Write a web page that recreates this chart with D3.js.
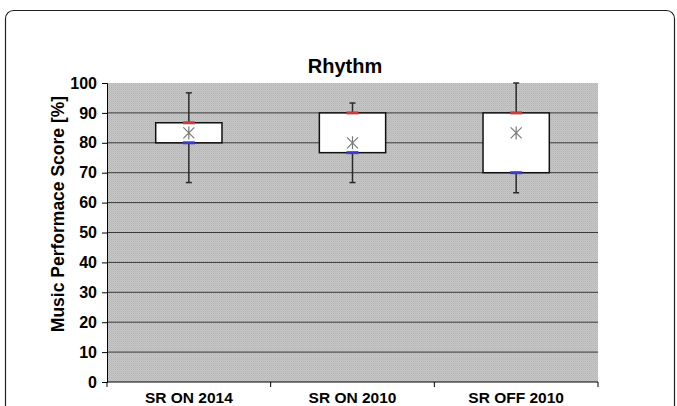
<!DOCTYPE html>
<html>
<head>
<meta charset="utf-8">
<script src="https://cdn.jsdelivr.net/npm/d3@7"></script>
<style>
  html, body { margin: 0; padding: 0; background: #fff; }
  svg { display: block; font-family: "Liberation Sans", Arial, sans-serif; }
</style>
</head>
<body>
<div id="chart"></div>
<script>
const categories = ['SR ON 2014', 'SR ON 2010', 'SR OFF 2010'];
const whiskerMax = [96.7, 93.3, 100];
const upperQ = [86.7, 90, 90];
const lowerQ = [80, 76.7, 70];
const whiskerMin = [66.7, 66.7, 63.3];
const means = [83.3, 80, 83.3];
const yTicks = [0, 10, 20, 30, 40, 50, 60, 70, 80, 90, 100];

const W = 677, H = 406;
const margin = { top: 83, right: 79, bottom: 24, left: 107 };
const width = W - margin.left - margin.right;
const height = H - margin.top - margin.bottom;

const svg = d3.select('#chart').append('svg')
  .attr('width', W)
  .attr('height', H);

// outer frame
svg.append('rect')
  .attr('x', 5.5).attr('y', 10.5)
  .attr('width', 669).attr('height', 420)
  .attr('rx', 8)
  .attr('fill', 'none')
  .attr('stroke', '#222')
  .attr('stroke-width', 1.2);

// dithered gray fill like the old Excel export
const defs = svg.append('defs');
const pat = defs.append('pattern')
  .attr('id', 'dither')
  .attr('width', 2).attr('height', 2)
  .attr('patternUnits', 'userSpaceOnUse');
pat.append('rect').attr('width', 2).attr('height', 2).attr('fill', '#c8c8c8');
pat.append('rect').attr('width', 1).attr('height', 1).attr('fill', '#b4b4b4');
pat.append('rect').attr('x', 1).attr('y', 1).attr('width', 1).attr('height', 1).attr('fill', '#bcbcbc');

const g = svg.append('g')
  .attr('transform', `translate(${margin.left},${margin.top})`);

const x = d3.scaleBand().domain(categories).range([0, width]);
const y = d3.scaleLinear().domain([0, 100]).range([height, 0]);

g.append('rect')
  .attr('width', width).attr('height', height)
  .attr('fill', 'url(#dither)');

// gridlines
g.selectAll('.grid')
  .data(yTicks.filter(d => d > 0 && d < 100))
  .enter().append('line')
  .attr('x1', 0).attr('x2', width)
  .attr('y1', d => y(d)).attr('y2', d => y(d))
  .attr('stroke', '#3a3a3a')
  .attr('stroke-width', 1);

// y axis
const yAxis = g.append('g')
  .call(d3.axisLeft(y).tickValues(yTicks).tickSize(5).tickPadding(5));
yAxis.select('.domain').attr('stroke', '#000');
yAxis.selectAll('text')
  .attr('font-size', 16)
  .attr('font-weight', 'bold')
  .attr('fill', '#000');

// x axis with ticks at band edges
const xAxis = g.append('g').attr('transform', `translate(0,${height})`);
xAxis.append('line')
  .attr('x1', 0).attr('x2', width)
  .attr('stroke', '#000').attr('stroke-width', 1.2);
const edges = categories.map(c => x(c)).concat([width]);
xAxis.selectAll('.xt').data(edges).enter().append('line')
  .attr('x1', d => d).attr('x2', d => d)
  .attr('y1', 0).attr('y2', 5)
  .attr('stroke', '#000');
xAxis.selectAll('.xl').data(categories).enter().append('text')
  .attr('x', d => x(d) + x.bandwidth() / 2)
  .attr('y', 20.5)
  .attr('text-anchor', 'middle')
  .attr('font-size', 15.5)
  .attr('font-weight', 'bold')
  .text(d => d);

// boxes
const boxW = x.bandwidth() * 0.405;
const rows = categories.map((c, i) => ({
  cat: c, hi: whiskerMax[i], q3: upperQ[i], q1: lowerQ[i], lo: whiskerMin[i], mean: means[i]
}));

const box = g.selectAll('.box').data(rows).enter().append('g')
  .attr('transform', d => `translate(${x(d.cat) + x.bandwidth() / 2},0)`);

box.append('line')
  .attr('y1', d => y(d.hi)).attr('y2', d => y(d.lo))
  .attr('stroke', '#2a2a2a').attr('stroke-width', 1.5);
box.append('line')
  .attr('x1', -3).attr('x2', 3)
  .attr('y1', d => y(d.hi)).attr('y2', d => y(d.hi))
  .attr('stroke', '#2a2a2a').attr('stroke-width', 1.5);
box.append('line')
  .attr('x1', -3).attr('x2', 3)
  .attr('y1', d => y(d.lo)).attr('y2', d => y(d.lo))
  .attr('stroke', '#2a2a2a').attr('stroke-width', 1.5);

box.append('rect')
  .attr('x', -boxW / 2)
  .attr('width', boxW)
  .attr('y', d => y(d.q3))
  .attr('height', d => y(d.q1) - y(d.q3))
  .attr('fill', '#fff')
  .attr('stroke', '#111')
  .attr('stroke-width', 1.5);

box.append('line')
  .attr('x1', -6).attr('x2', 6)
  .attr('y1', d => y(d.q3)).attr('y2', d => y(d.q3))
  .attr('stroke', '#c83c3c').attr('stroke-width', 3);
box.append('line')
  .attr('x1', -6).attr('x2', 6)
  .attr('y1', d => y(d.q1)).attr('y2', d => y(d.q1))
  .attr('stroke', '#3c3cc8').attr('stroke-width', 3);

// mean marker (asterisk)
const s = 5.5;
box.append('path')
  .attr('d', d => {
    const cy = y(d.mean);
    return `M${-s},${cy - s}L${s},${cy + s}M${-s},${cy + s}L${s},${cy - s}M0,${cy - s - 1}L0,${cy + s + 1}`;
  })
  .attr('stroke', '#7a7a7a')
  .attr('stroke-width', 1.2)
  .attr('fill', 'none');

// titles
svg.append('text')
  .attr('x', 345)
  .attr('y', 73)
  .attr('text-anchor', 'middle')
  .attr('font-size', 20)
  .attr('font-weight', 'bold')
  .text('Rhythm');

svg.append('text')
  .attr('transform', 'translate(64,214) rotate(-90)')
  .attr('text-anchor', 'middle')
  .attr('font-size', 17.5)
  .attr('font-weight', 'bold')
  .text('Music Performace Score [%]');
</script>
</body>
</html>
